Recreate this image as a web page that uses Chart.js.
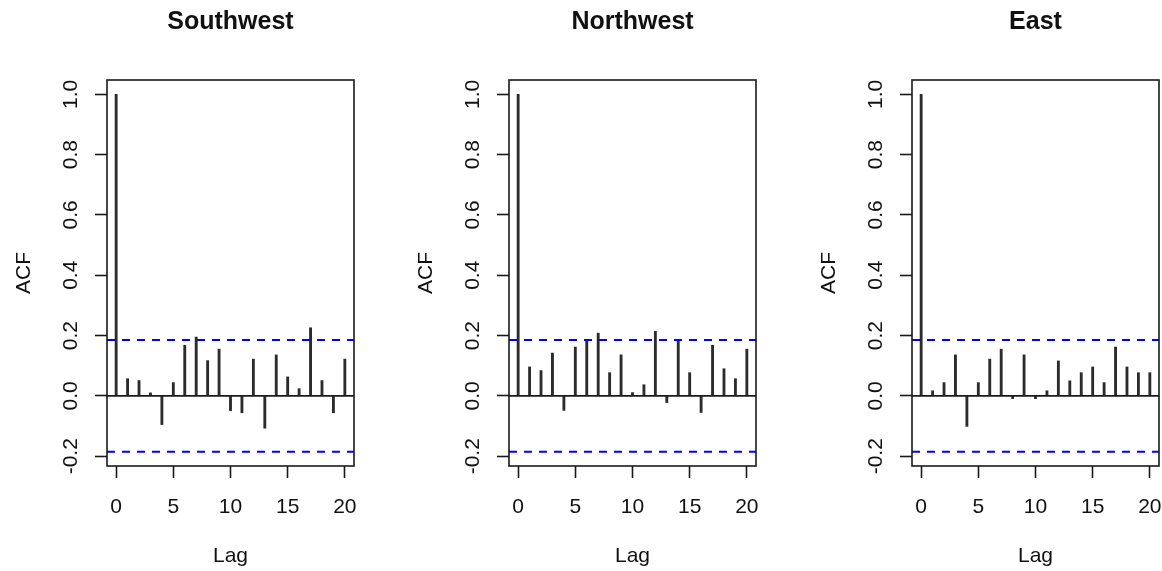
<!DOCTYPE html>
<html>
<head>
<meta charset="utf-8">
<script src="https://cdn.jsdelivr.net/npm/chart.js@4.4.1/dist/chart.umd.min.js"></script>
<style>
  html, body { margin: 0; padding: 0; background: #fff; overflow: hidden; }
  #wrap { position: relative; width: 1162px; height: 571px; }
  canvas { position: absolute; top: 0; }
</style>
</head>
<body>
<div id="wrap"></div>
<script>
// ---- data ----
const titles = ["Southwest", "Northwest", "East"];
const lags = [0,1,2,3,4,5,6,7,8,9,10,11,12,13,14,15,16,17,18,19,20];
const southwest = [1.0,0.057,0.051,0.010,-0.095,0.044,0.168,0.195,0.117,0.155,-0.049,-0.056,0.122,-0.107,0.136,0.063,0.024,0.226,0.051,-0.056,0.122];
const northwest = [1.0,0.096,0.084,0.142,-0.048,0.162,0.181,0.208,0.077,0.136,0.011,0.037,0.214,-0.022,0.185,0.077,-0.055,0.168,0.090,0.057,0.155];
const east      = [1.0,0.017,0.044,0.136,-0.101,0.044,0.122,0.155,-0.009,0.136,-0.009,0.017,0.116,0.050,0.077,0.096,0.044,0.162,0.096,0.077,0.077];
const confLimit = 0.1852;
const xTicks = [0,5,10,15,20];
const yTicks = [-0.2,0.0,0.2,0.4,0.6,0.8,1.0];
const yTickLabels = ["-0.2","0.0","0.2","0.4","0.6","0.8","1.0"];
const xTickLabels = ["0","5","10","15","20"];
const xLabel = "Lag";
const yLabel = "ACF";

const seriesList = [southwest, northwest, east];
const boxLefts = [107, 509, 912];

const FONT = "'Liberation Sans', Arial, sans-serif";
const CW = 357, CH = 571;
const X_MIN = -0.8, X_MAX = 20.8, Y_MIN = -0.2324, Y_MAX = 1.0474;

function textPlugin(title) {
  return {
    id: 'rtext',
    afterDraw(chart) {
      const ctx = chart.ctx;
      const a = chart.chartArea;
      const xs = chart.scales.x, ys = chart.scales.y;
      ctx.save();
      // box
      ctx.strokeStyle = '#1a1a1a';
      ctx.lineWidth = 1.6;
      ctx.strokeRect(a.left, a.top, a.right - a.left, a.bottom - a.top);
      ctx.fillStyle = '#111';
      // x tick labels
      ctx.font = '21px ' + FONT;
      ctx.textAlign = 'center';
      ctx.textBaseline = 'middle';
      xTicks.forEach((v, i) => {
        ctx.fillText(xTickLabels[i], xs.getPixelForValue(v), 507);
      });
      // x axis title
      ctx.fillText(xLabel, (a.left + a.right) / 2, 556);
      // y tick labels (rotated)
      yTicks.forEach((v, i) => {
        ctx.save();
        ctx.translate(a.left - 36, ys.getPixelForValue(v));
        ctx.rotate(-Math.PI / 2);
        ctx.fillText(yTickLabels[i], 0, 0);
        ctx.restore();
      });
      // y axis title
      ctx.save();
      ctx.translate(a.left - 83, (a.top + a.bottom) / 2);
      ctx.rotate(-Math.PI / 2);
      ctx.fillText(yLabel, 0, 0);
      ctx.restore();
      // main title
      ctx.font = 'bold 25px ' + FONT;
      ctx.fillText(title, (a.left + a.right) / 2, 22);
      ctx.restore();
    }
  };
}

const wrap = document.getElementById('wrap');
seriesList.forEach((vals, p) => {
  const cv = document.createElement('canvas');
  cv.width = CW; cv.height = CH;
  cv.style.left = (boxLefts[p] - 107) + 'px';
  cv.style.width = CW + 'px'; cv.style.height = CH + 'px';
  wrap.appendChild(cv);
  new Chart(cv, {
    type: 'bar',
    data: {
      datasets: [
        {
          type: 'bar',
          data: lags.map((l, i) => ({ x: l, y: vals[i] })),
          backgroundColor: '#2b2b2b',
          borderWidth: 0,
          barThickness: 2.2,
          order: 2
        },
        {
          type: 'line',
          data: [{ x: X_MIN, y: 0 }, { x: X_MAX, y: 0 }],
          borderColor: '#1a1a1a',
          borderWidth: 1.6,
          pointRadius: 0,
          order: 1
        },
        {
          type: 'line',
          data: [{ x: X_MIN, y: confLimit }, { x: X_MAX, y: confLimit }],
          borderColor: '#0000ff',
          borderWidth: 2,
          borderDash: [8, 7],
          pointRadius: 0,
          order: 0
        },
        {
          type: 'line',
          data: [{ x: X_MIN, y: -confLimit }, { x: X_MAX, y: -confLimit }],
          borderColor: '#0000ff',
          borderWidth: 2,
          borderDash: [8, 7],
          pointRadius: 0,
          order: 0
        }
      ]
    },
    options: {
      responsive: false,
      animation: false,
      devicePixelRatio: 1,
      layout: { autoPadding: false, padding: { left: 95, right: CW - 354, top: 80, bottom: CH - 466 - 12 } },
      plugins: { legend: { display: false }, tooltip: { enabled: false }, title: { display: false } },
      scales: {
        x: {
          type: 'linear', min: X_MIN, max: X_MAX, offset: false,
          afterBuildTicks(s) { s.ticks = xTicks.map(v => ({ value: v })); },
          afterFit(s) { s.height = 12; },
          ticks: { display: false },
          border: { display: false },
          grid: { display: true, offset: false, drawOnChartArea: false, drawTicks: true, tickLength: 12, tickColor: '#1a1a1a', tickWidth: 1.6, color: '#1a1a1a' }
        },
        y: {
          type: 'linear', min: Y_MIN, max: Y_MAX,
          afterBuildTicks(s) { s.ticks = yTicks.map(v => ({ value: v })); },
          afterFit(s) { s.width = 12; },
          ticks: { display: false },
          border: { display: false },
          grid: { display: true, drawOnChartArea: false, drawTicks: true, tickLength: 12, tickColor: '#1a1a1a', tickWidth: 1.6, color: '#1a1a1a' }
        }
      }
    },
    plugins: [textPlugin(titles[p])]
  });
});
</script>
</body>
</html>
